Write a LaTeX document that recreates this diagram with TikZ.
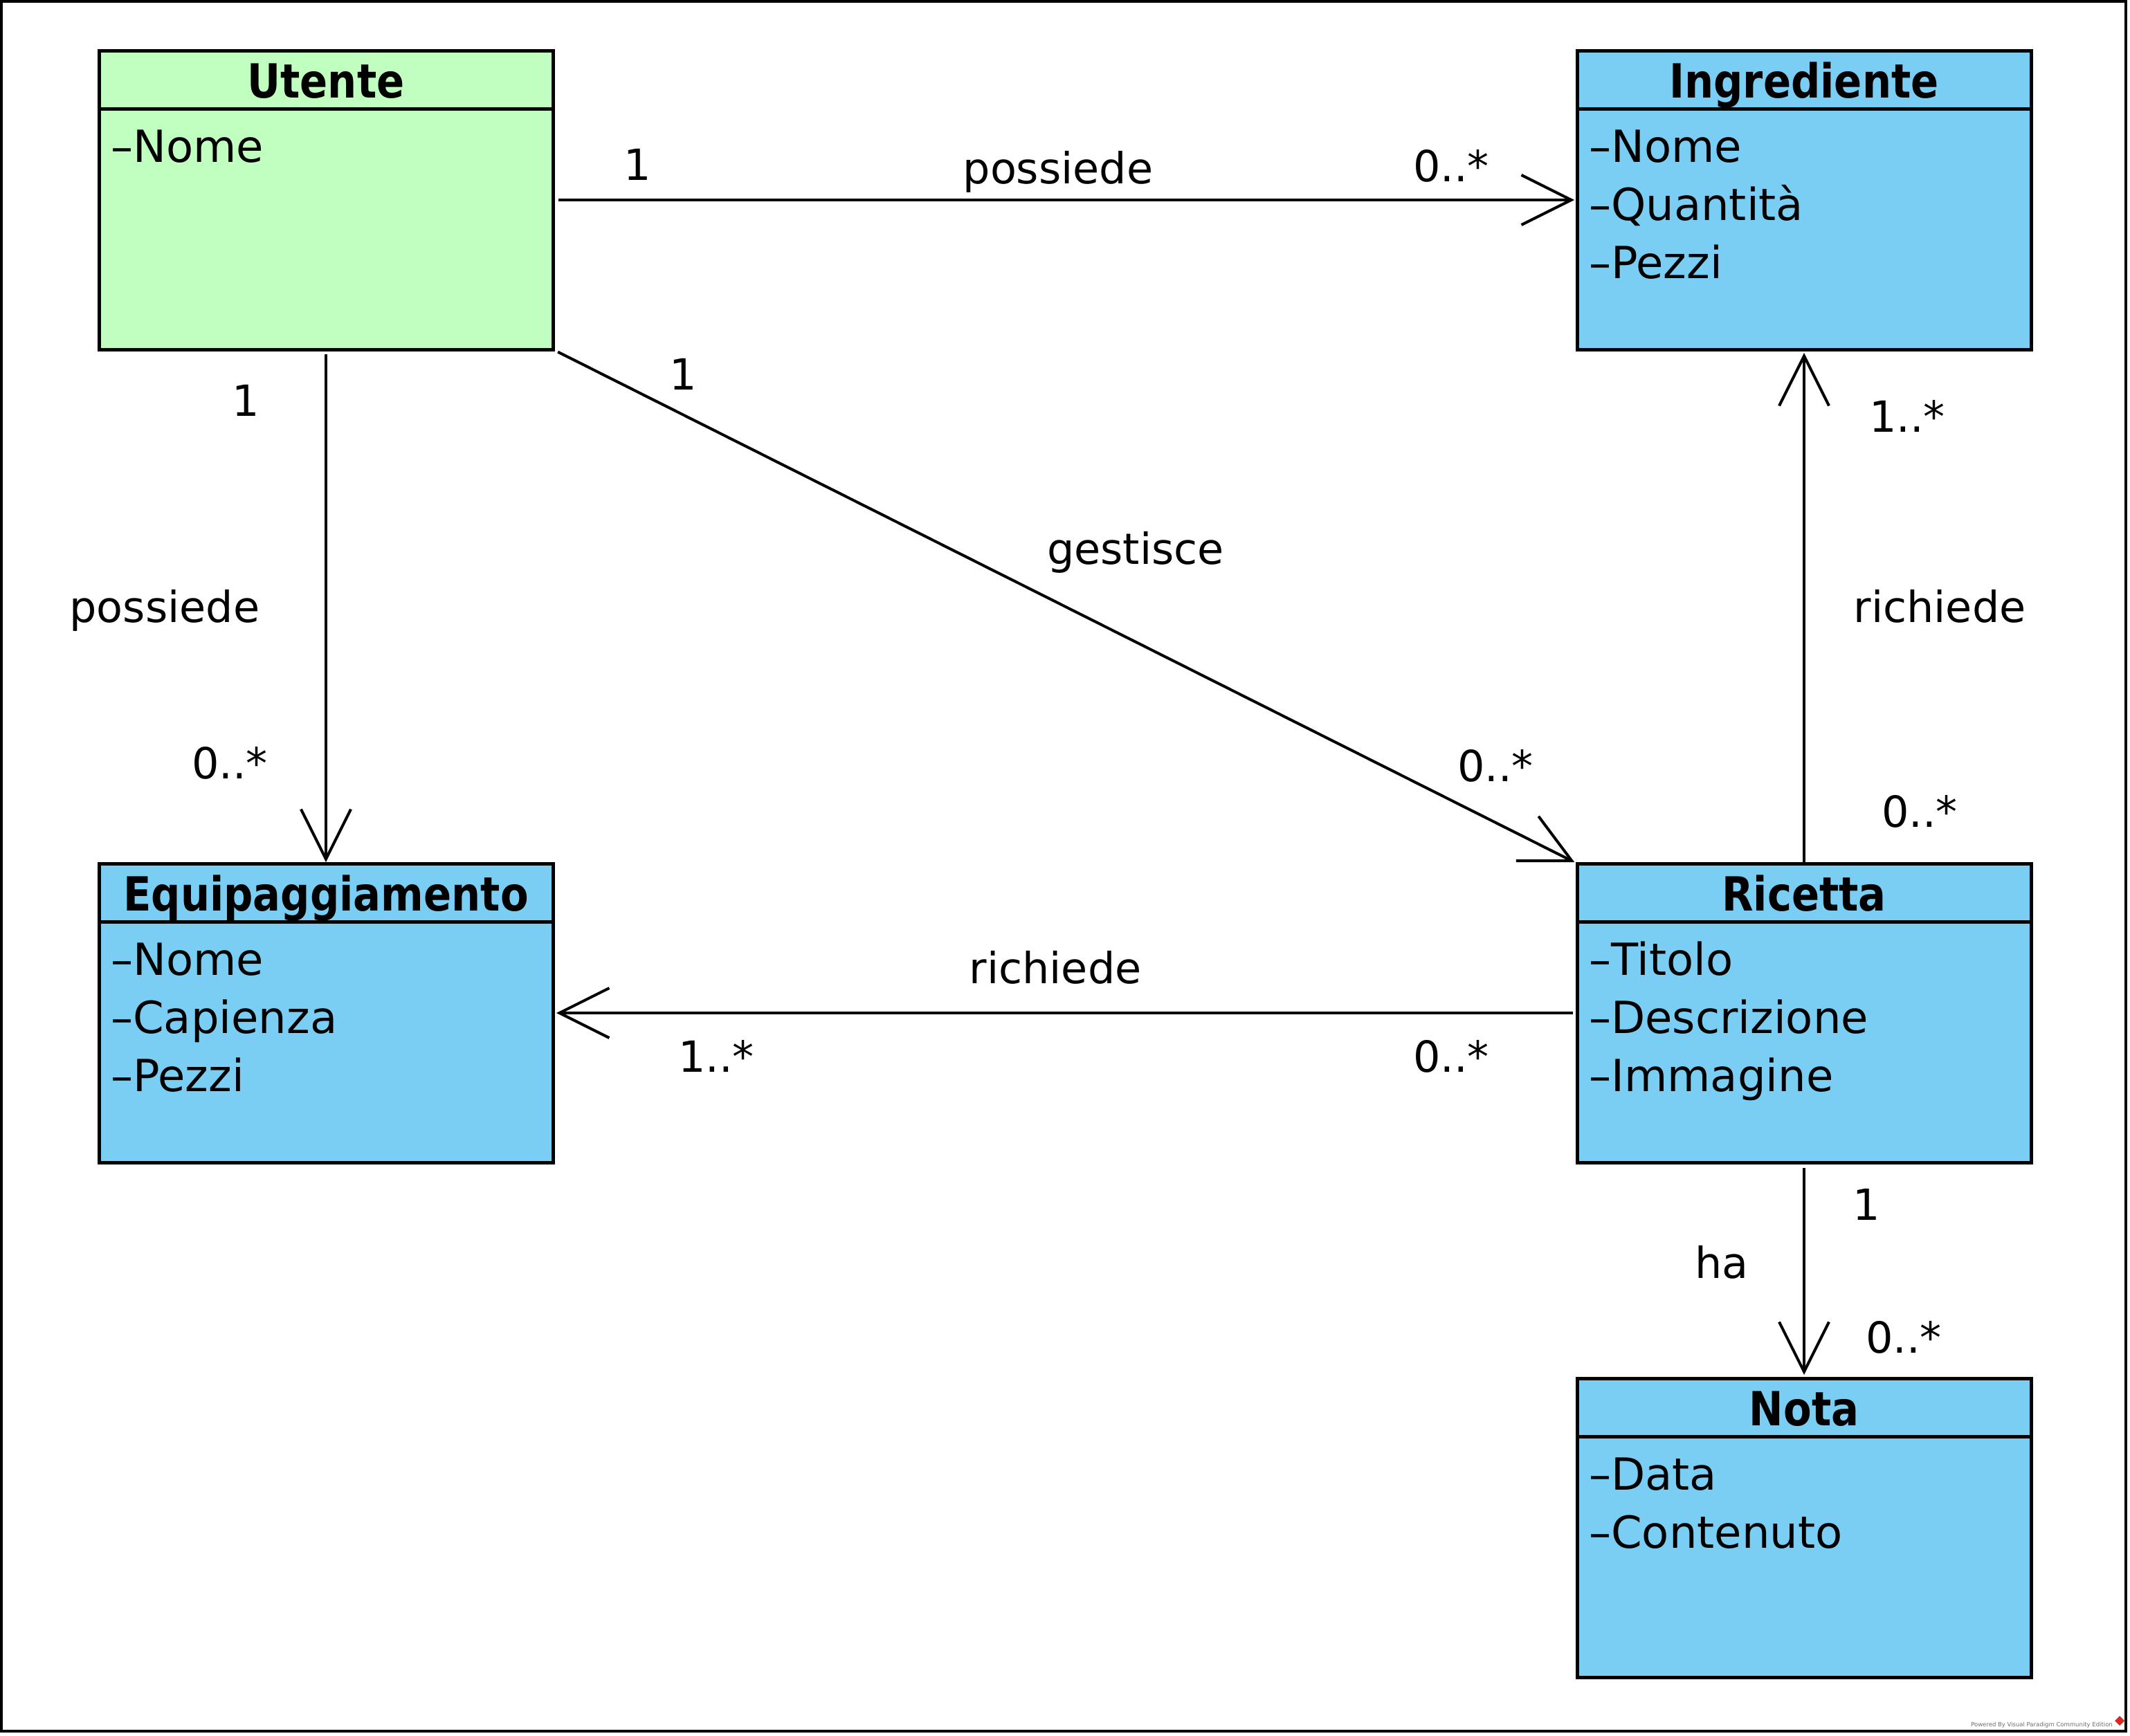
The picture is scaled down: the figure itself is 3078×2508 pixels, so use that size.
\documentclass[tikz,border=0pt]{standalone}
\usepackage{fontspec}
\setmainfont{DejaVu Sans}
\newfontfamily\hdrfont[FakeStretch=0.87]{DejaVu Sans}
\usetikzlibrary{arrows.meta,calc}
\definecolor{clsgreen}{RGB}{192,255,192}
\definecolor{clsblue}{RGB}{122,206,244}
\definecolor{wmgray}{RGB}{110,110,110}
\definecolor{wmred}{RGB}{215,40,40}
\newcommand\umlclass[5]{%
  \node[classbox, fill=#3] (#1) at (#2) {};
  \draw[divider] ($(#1.north west)+(0,84)$) -- ($(#1.north east)+(0,84)$);
  \node[clstitle] (#1-t) at ($(#1.north)+(0,68)$) {#4};
  \foreach \a [count=\i] in {#5} {
    \node[clsattr] (#1-a\i) at ($(#1.north west)+(17,77+84*\i)$) {–\a};
  }%
}
\begin{document}
\begin{tikzpicture}[x=1pt,y=-1pt,
  classbox/.style={draw, line width=5pt, minimum width=656pt, minimum height=432pt, inner sep=0pt, outer sep=0pt},
  divider/.style={line width=5pt},
  clstitle/.style={anchor=base, inner sep=0pt, font=\hdrfont\bfseries\fontsize{68}{80}\selectfont},
  clsattr/.style={anchor=base west, inner sep=0pt, font=\fontsize{64}{76}\selectfont},
  lbl/.style={anchor=base, inner sep=0pt, font=\fontsize{62}{74}\selectfont},
  assoc/.style={line width=4pt, -{Straight Barb[length=72pt,width=72pt]}},
]
\useasboundingbox (0,0) rectangle (3078,2508);
\draw[line width=4pt] (2,2) rectangle (3072,2502);

% classes
\umlclass{ut}{471,289}{clsgreen}{Utente}{Nome}
\umlclass{ing}{2607,289}{clsblue}{Ingrediente}{Nome,Quantità,Pezzi}
\umlclass{eq}{471,1464}{clsblue}{Equipaggiamento}{Nome,Capienza,Pezzi}
\umlclass{ric}{2607,1464}{clsblue}{Ricetta}{Titolo,Descrizione,Immagine}
\umlclass{nota}{2607,2208}{clsblue}{Nota}{Data,Contenuto}

% associations
\draw[assoc, shorten <=8pt, shorten >=4pt] (ut.east) -- (ing.west);
\draw[assoc, shorten <=7pt, shorten >=2pt] (ut.south) -- (eq.north);
\draw[assoc, shorten <=8pt, shorten >=4pt] (ut.south east) -- (ric.north west);
\draw[assoc, shorten >=5pt] (ric.north) -- (ing.south);
\draw[assoc, shorten <=6pt, shorten >=5pt] (ric.west) -- (eq.east);
\draw[assoc, shorten <=8pt, shorten >=5pt] (ric.south) -- (nota.north);

% labels: Utente - Ingrediente
\node[lbl] (l1a) at (921,260) {1};
\node[lbl] (l1n) at (1529,265) {possiede};
\node[lbl] (l1b) at (2097,262) {0..*};
% Utente - Equipaggiamento
\node[lbl] (l2a) at (355,601) {1};
\node[lbl] (l2n) at (238,899) {possiede};
\node[lbl] (l2b) at (332,1125) {0..*};
% Utente - Ricetta
\node[lbl] (l3a) at (987,563) {1};
\node[lbl] (l3n) at (1641,815) {gestisce};
\node[lbl] (l3b) at (2161,1129) {0..*};
% Ricetta - Ingrediente
\node[lbl] (l4b) at (2756,624) {1..*};
\node[lbl] (l4n) at (2803,899) {richiede};
\node[lbl] (l4a) at (2774,1195) {0..*};
% Ricetta - Equipaggiamento
\node[lbl] (l5n) at (1525,1421) {richiede};
\node[lbl] (l5b) at (1035,1549) {1..*};
\node[lbl] (l5a) at (2097,1549) {0..*};
% Ricetta - Nota
\node[lbl] (l6a) at (2697,1763) {1};
\node[lbl] (l6n) at (2488,1847) {ha};
\node[lbl] (l6b) at (2751,1955) {0..*};

% watermark
\node[anchor=base east, inner sep=0pt, text=wmgray, font=\fontsize{8.5}{10}\selectfont] (wm) at (3053,2495) {Powered By Visual Paradigm Community Edition};
\fill[wmred] (3063,2480) -- (3070,2487) -- (3063,2494) -- (3056,2487) -- cycle;
\end{tikzpicture}
\end{document}
